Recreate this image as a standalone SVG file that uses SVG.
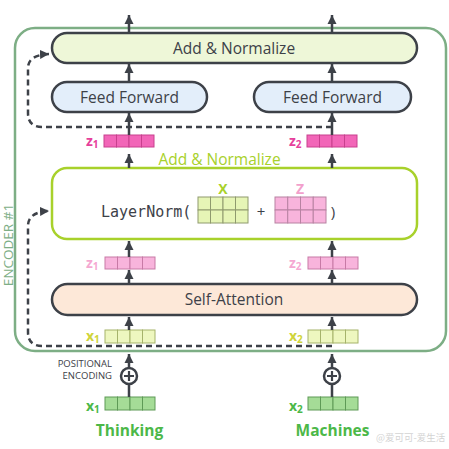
<svg xmlns="http://www.w3.org/2000/svg" width="449" height="449" viewBox="0 0 449 449">
<defs>
<marker id="ah" markerUnits="userSpaceOnUse" markerWidth="10" markerHeight="10" refX="9" refY="5" orient="auto">
<path d="M0,0.5 L9,5 L0,9.5 z" fill="#3d4148"/>
</marker>
<style>
text{font-family:"Open Sans","Noto Sans","Liberation Sans",sans-serif}
.box{stroke:#3d4148;stroke-width:2.5}
.lbl{font-size:15.5px;fill:#3d4148;text-anchor:middle}
.ar{stroke:#3d4148;stroke-width:2.5;fill:none;marker-end:url(#ah)}
.dash{stroke:#3d4148;stroke-width:2.5;fill:none;stroke-dasharray:6 4;marker-end:url(#ah)}
.cell{stroke-width:1}
.zd rect{fill:#f266b8;stroke:#c8408e}
.zl rect{fill:#f8b4dc;stroke:#c77aa6}
.xl rect{fill:#eef7bf;stroke:#a6b36a}
.xg rect{fill:#a5dc97;stroke:#5e9a56}
.sub{font-size:10px}
.vl{font-size:14px;font-weight:bold}
</style>
</defs>
<rect x="0" y="0" width="449" height="449" fill="#ffffff"/>
<g id="encoder">
<rect x="15" y="28" width="431" height="323" rx="20" fill="none" stroke="#7dae85" stroke-width="2.5"/>
<text transform="translate(12.5,245) rotate(-90)" font-size="13.5" fill="#7dae85" text-anchor="middle">ENCODER #1</text>
</g>
<g id="add-norm-top">
<rect class="box" x="52" y="33" width="365" height="30" rx="15" fill="#eef7d8"/>
<text class="lbl" x="234" y="54">Add &amp; Normalize</text>
</g>
<g id="ff1">
<rect class="box" x="52" y="82" width="155" height="30" rx="15" fill="#e3eefa"/>
<text class="lbl" x="129.5" y="102.5">Feed Forward</text>
</g>
<g id="ff2">
<rect class="box" x="254" y="82" width="157" height="30" rx="15" fill="#e3eefa"/>
<text class="lbl" x="332.5" y="102.5">Feed Forward</text>
</g>
<g id="z1-out">
<text class="vl" x="86" y="146" fill="#e6409b">z<tspan class="sub" dy="2">1</tspan></text>
<g class="zd"><rect class="cell" x="104" y="135" width="12.5" height="12"/><rect class="cell" x="116.5" y="135" width="12.5" height="12"/><rect class="cell" x="129" y="135" width="12.5" height="12"/><rect class="cell" x="141.5" y="135" width="12.5" height="12"/></g>
</g>
<g id="z2-out">
<text class="vl" x="289" y="146" fill="#e6409b">z<tspan class="sub" dy="2">2</tspan></text>
<g class="zd"><rect class="cell" x="307" y="135" width="12.5" height="12"/><rect class="cell" x="319.5" y="135" width="12.5" height="12"/><rect class="cell" x="332" y="135" width="12.5" height="12"/><rect class="cell" x="344.5" y="135" width="12.5" height="12"/></g>
</g>
<g id="add-norm-mid">
<rect x="52" y="168" width="365" height="71" rx="15" fill="#ffffff" stroke="#a8d12b" stroke-width="2.5"/>
<text x="219.5" y="165" font-size="15.5" fill="#a8d12b" text-anchor="middle">Add &amp; Normalize</text>
<text x="101" y="217" font-size="15" fill="#3d4148" style="font-family:'DejaVu Sans Mono','Liberation Mono',monospace">LayerNorm(</text>
<text x="223" y="194" font-size="14" font-weight="bold" fill="#a8d12b" text-anchor="middle">X</text>
<g fill="#e6f5b6" stroke="#8f9a6e" stroke-width="1">
<rect x="198" y="197" width="12.5" height="13"/><rect x="210.5" y="197" width="12.5" height="13"/><rect x="223" y="197" width="12.5" height="13"/><rect x="235.5" y="197" width="12.5" height="13"/>
<rect x="198" y="210" width="12.5" height="13"/><rect x="210.5" y="210" width="12.5" height="13"/><rect x="223" y="210" width="12.5" height="13"/><rect x="235.5" y="210" width="12.5" height="13"/>
</g>
<text x="261" y="217" font-size="15" fill="#3d4148" text-anchor="middle">+</text>
<text x="300" y="194" font-size="14" font-weight="bold" fill="#f2a0cc" text-anchor="middle">Z</text>
<g fill="#f8b4dc" stroke="#b882a2" stroke-width="1">
<rect x="275" y="197" width="12.75" height="13"/><rect x="287.75" y="197" width="12.75" height="13"/><rect x="300.5" y="197" width="12.75" height="13"/><rect x="313.25" y="197" width="12.75" height="13"/>
<rect x="275" y="210" width="12.75" height="13"/><rect x="287.75" y="210" width="12.75" height="13"/><rect x="300.5" y="210" width="12.75" height="13"/><rect x="313.25" y="210" width="12.75" height="13"/>
</g>
<text x="333" y="217" font-size="15" fill="#3d4148" text-anchor="middle">)</text>
</g>
<g id="z1-att">
<text class="vl" x="86" y="268" fill="#f5a8d2">z<tspan class="sub" dy="2">1</tspan></text>
<g class="zl"><rect class="cell" x="105" y="257" width="12.5" height="12"/><rect class="cell" x="117.5" y="257" width="12.5" height="12"/><rect class="cell" x="130" y="257" width="12.5" height="12"/><rect class="cell" x="142.5" y="257" width="12.5" height="12"/></g>
</g>
<g id="z2-att">
<text class="vl" x="289" y="268" fill="#f5a8d2">z<tspan class="sub" dy="2">2</tspan></text>
<g class="zl"><rect class="cell" x="308" y="257" width="12.5" height="12"/><rect class="cell" x="320.5" y="257" width="12.5" height="12"/><rect class="cell" x="333" y="257" width="12.5" height="12"/><rect class="cell" x="345.5" y="257" width="12.5" height="12"/></g>
</g>
<g id="self-attention">
<rect class="box" x="52" y="284" width="365" height="31" rx="15.5" fill="#fde8d8"/>
<text class="lbl" x="234" y="305">Self-Attention</text>
</g>
<g id="x1-in">
<text class="vl" x="86" y="341" fill="#cfd43a">x<tspan class="sub" dy="2">1</tspan></text>
<g class="xl"><rect class="cell" x="105" y="330" width="12.5" height="13"/><rect class="cell" x="117.5" y="330" width="12.5" height="13"/><rect class="cell" x="130" y="330" width="12.5" height="13"/><rect class="cell" x="142.5" y="330" width="12.5" height="13"/></g>
</g>
<g id="x2-in">
<text class="vl" x="289" y="341" fill="#cfd43a">x<tspan class="sub" dy="2">2</tspan></text>
<g class="xl"><rect class="cell" x="308" y="330" width="12.5" height="13"/><rect class="cell" x="320.5" y="330" width="12.5" height="13"/><rect class="cell" x="333" y="330" width="12.5" height="13"/><rect class="cell" x="345.5" y="330" width="12.5" height="13"/></g>
</g>
<g id="pos-enc-1">
<circle cx="129" cy="376" r="8" fill="#ffffff" stroke="#3d4148" stroke-width="2.5"/>
<path d="M124,376 H134 M129,371 V381" stroke="#3d4148" stroke-width="2.2"/>
<text x="112" y="366.5" font-size="9.5" fill="#3d4148" text-anchor="end">POSITIONAL</text>
<text x="112" y="378.5" font-size="9.5" fill="#3d4148" text-anchor="end">ENCODING</text>
</g>
<g id="pos-enc-2">
<circle cx="332" cy="376" r="8" fill="#ffffff" stroke="#3d4148" stroke-width="2.5"/>
<path d="M327,376 H337 M332,371 V381" stroke="#3d4148" stroke-width="2.2"/>
</g>
<g id="x1-emb">
<text class="vl" x="86" y="411" fill="#4cb848">x<tspan class="sub" dy="2">1</tspan></text>
<g class="xg"><rect class="cell" x="105" y="397" width="12.5" height="13"/><rect class="cell" x="117.5" y="397" width="12.5" height="13"/><rect class="cell" x="130" y="397" width="12.5" height="13"/><rect class="cell" x="142.5" y="397" width="12.5" height="13"/></g>
<text x="129.5" y="436" font-size="15.5" font-weight="bold" fill="#4cb848" text-anchor="middle">Thinking</text>
</g>
<g id="x2-emb">
<text class="vl" x="289" y="411" fill="#4cb848">x<tspan class="sub" dy="2">2</tspan></text>
<g class="xg"><rect class="cell" x="308" y="397" width="12.5" height="13"/><rect class="cell" x="320.5" y="397" width="12.5" height="13"/><rect class="cell" x="333" y="397" width="12.5" height="13"/><rect class="cell" x="345.5" y="397" width="12.5" height="13"/></g>
<text x="332.5" y="436" font-size="15.5" font-weight="bold" fill="#4cb848" text-anchor="middle">Machines</text>
</g>
<g id="connectors">
<path class="ar" d="M129,33 V15"/>
<path class="ar" d="M332,33 V15"/>
<path class="ar" d="M129,82 V64"/>
<path class="ar" d="M332,82 V64"/>
<path class="ar" d="M129,135 V113"/>
<path class="ar" d="M332,135 V113"/>
<path class="dash" d="M332,127 H42 Q28,127 28,113 V68 Q28,55 49,54"/>
<path class="ar" d="M129,168 V154"/>
<path class="ar" d="M332,168 V154"/>
<path class="ar" d="M129,257 V241"/>
<path class="ar" d="M332,257 V241"/>
<path class="ar" d="M129,284 V270"/>
<path class="ar" d="M332,284 V270"/>
<path class="ar" d="M129,330 V317"/>
<path class="ar" d="M332,330 V317"/>
<path class="dash" d="M332,346 H42 Q28,346 28,332 V226 Q28,212 49,211"/>
<path class="ar" d="M129,368 V354"/>
<path class="ar" d="M332,368 V354"/>
<path d="M129,397 V384 M332,397 V384" stroke="#3d4148" stroke-width="2.5"/>
</g>
<g id="watermark" opacity="0.55">
<text x="376" y="441" font-size="9.5" fill="#b0b0b0" style="font-family:'Noto Sans CJK SC',sans-serif">@爱可可-爱生活</text>
</g>
</svg>
